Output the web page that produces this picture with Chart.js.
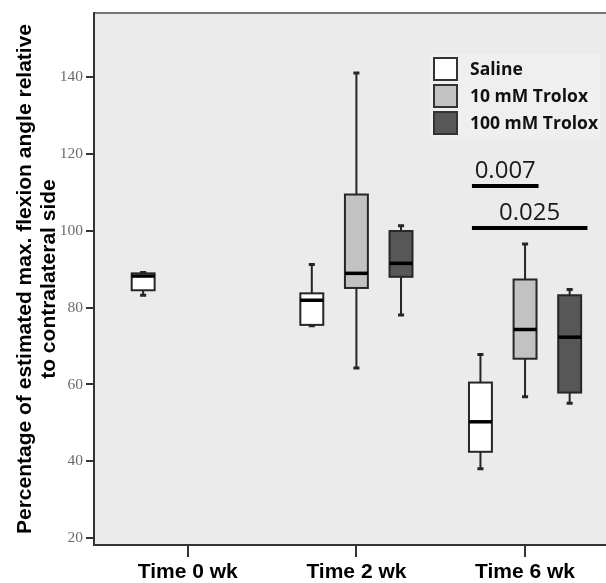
<!DOCTYPE html>
<html lang="en">
<head>
  <meta charset="UTF-8" />
  <title>Flexion angle by treatment</title>
  <script src="https://cdn.jsdelivr.net/npm/chart.js"></script>
  <style>
    body { margin: 0; background: #fff; }
    #wrap { width: 606px; height: 583px; }
  </style>
</head>
<body>
  <div id="wrap"><canvas id="flexChart"></canvas></div>

  <script>
    // Categories and tick labels
    const timeLabels = ['Time 0 wk', 'Time 2 wk', 'Time 6 wk'];
    const yTicks = [20, 40, 60, 80, 100, 120, 140];

    // Treatment groups
    const groupNames = ['Saline', '10 mM Trolox', '100 mM Trolox'];

    // Box stats per time point: [lower whisker, q1, median, q3, upper whisker]; null = not measured
    const saline    = [[83.2, 84.5, 88.2, 88.9, 89.1], [75.3, 75.5, 81.9, 83.7, 91.2], [38.1, 42.5, 50.3, 60.5, 67.8]];
    const trolox10  = [null, [64.3, 85.1, 88.9, 109.4, 141.0], [56.8, 66.7, 74.3, 87.3, 96.5]];
    const trolox100 = [null, [78.1, 88.0, 91.5, 99.9, 101.3], [55.1, 57.9, 72.3, 83.2, 84.7]];

    // Significance bars at 6 wk (x in time units, y in percent)
    const sigLabels = ['0.007', '0.025'];
    const sigFrom = [1.685, 1.685];
    const sigTo = [2.08, 2.37];
    const sigY = [111.6, 100.7];

    const groupStats = [saline, trolox10, trolox100];
    const groupFill = ['#ffffff', '#c2c2c2', '#575757'];
    const groupOffset = [-0.2645, 0, 0.2645];
    const boxHalf = 0.068;
    const capHalf = 0.018;

    const datasets = groupNames.map((name, g) => ({
      label: name,
      stats: groupStats[g],
      fill: groupFill[g],
      offset: groupOffset[g],
      data: groupStats[g]
        .map((s, i) => s ? { x: i + groupOffset[g], y: s[2] } : null)
        .filter(p => p),
      pointRadius: 0,
      showLine: false
    }));

    const boxPlugin = {
      id: 'boxes',
      beforeDraw(chart) {
        const { ctx, chartArea: a } = chart;
        ctx.save();
        ctx.fillStyle = '#ebebeb';
        ctx.fillRect(a.left, a.top, a.right - a.left, a.bottom - a.top);
        // top frame
        ctx.strokeStyle = '#777';
        ctx.lineWidth = 2;
        ctx.beginPath();
        ctx.moveTo(a.left, a.top);
        ctx.lineTo(a.right, a.top);
        ctx.stroke();
        ctx.restore();
      },
      afterDatasetsDraw(chart) {
        const { ctx, scales: { x, y } } = chart;
        ctx.save();
        chart.data.datasets.forEach(ds => {
          ds.stats.forEach((s, i) => {
            if (!s) return;
            const cx = x.getPixelForValue(i + ds.offset);
            const l = x.getPixelForValue(i + ds.offset - boxHalf);
            const r = x.getPixelForValue(i + ds.offset + boxHalf);
            const cl = x.getPixelForValue(i + ds.offset - capHalf);
            const cr = x.getPixelForValue(i + ds.offset + capHalf);
            const [lo, q1, med, q3, hi] = s.map(v => y.getPixelForValue(v));

            // whiskers
            ctx.strokeStyle = '#262626';
            ctx.lineWidth = 2;
            ctx.beginPath();
            ctx.moveTo(cx, hi); ctx.lineTo(cx, q3);
            ctx.moveTo(cx, q1); ctx.lineTo(cx, lo);
            ctx.stroke();
            ctx.lineWidth = 3;
            ctx.beginPath();
            ctx.moveTo(cl, hi); ctx.lineTo(cr, hi);
            ctx.moveTo(cl, lo); ctx.lineTo(cr, lo);
            ctx.stroke();

            // box
            ctx.fillStyle = ds.fill;
            ctx.fillRect(l, q3, r - l, q1 - q3);
            ctx.lineWidth = 2;
            ctx.strokeRect(l, q3, r - l, q1 - q3);

            // median
            ctx.strokeStyle = '#000';
            ctx.lineWidth = 3.5;
            ctx.beginPath();
            ctx.moveTo(l, med); ctx.lineTo(r, med);
            ctx.stroke();
          });
        });

        // significance bars
        ctx.fillStyle = '#1a1a1a';
        ctx.strokeStyle = '#000';
        ctx.font = '24px "Open Sans"';
        ctx.textAlign = 'center';
        ctx.textBaseline = 'alphabetic';
        sigLabels.forEach((txt, k) => {
          const x1 = x.getPixelForValue(sigFrom[k]);
          const x2 = x.getPixelForValue(sigTo[k]);
          const py = y.getPixelForValue(sigY[k]);
          ctx.lineWidth = 4;
          ctx.beginPath();
          ctx.moveTo(x1, py); ctx.lineTo(x2, py);
          ctx.stroke();
          ctx.fillText(txt, (x1 + x2) / 2, py - 8);
        });

        // legend
        const lx = 434, ly = 58, pitch = 27;
        ctx.fillStyle = '#efefef';
        ctx.fillRect(lx - 4, ly - 4, 170, pitch * 3 + 4);
        ctx.font = 'bold 17.5px "Open Sans"';
        ctx.textAlign = 'left';
        ctx.textBaseline = 'middle';
        chart.data.datasets.forEach((ds, k) => {
          const top = ly + k * pitch;
          ctx.fillStyle = ds.fill;
          ctx.fillRect(lx, top, 23, 22);
          ctx.strokeStyle = '#333';
          ctx.lineWidth = 2;
          ctx.strokeRect(lx, top, 23, 22);
          ctx.fillStyle = '#111';
          ctx.fillText(ds.label, lx + 36, top + 12);
        });
        ctx.restore();
      }
    };

    new Chart(document.getElementById('flexChart'), {
      type: 'scatter',
      data: { datasets },
      options: {
        responsive: true,
        maintainAspectRatio: false,
        animation: false,
        layout: { padding: { top: 13, right: 0, bottom: 0, left: 0 } },
        plugins: { legend: { display: false }, tooltip: { enabled: false } },
        scales: {
          x: {
            type: 'linear',
            min: -0.556,
            max: 2.48,
            afterBuildTicks: s => { s.ticks = timeLabels.map((_, i) => ({ value: i })); },
            afterFit: s => { s.height = 38; },
            ticks: {
              callback: (v, i) => timeLabels[i],
              autoSkip: false,
              maxRotation: 0,
              padding: 3,
              color: '#000',
              font: { family: '"Liberation Sans", Arial, sans-serif', weight: 'bold', size: 21 }
            },
            grid: { drawOnChartArea: false, tickLength: 12, color: '#333', lineWidth: 2 },
            border: { color: '#333', width: 2 }
          },
          y: {
            min: 18.26,
            max: 156.6,
            afterBuildTicks: s => { s.ticks = yTicks.map(v => ({ value: v })); },
            afterFit: s => { s.width = 94; },
            ticks: {
              padding: 3,
              color: '#6b6b6b',
              font: { family: '"Liberation Serif", "DejaVu Serif", serif', size: 15.5 }
            },
            grid: { drawOnChartArea: false, tickLength: 8, color: '#333', lineWidth: 2 },
            border: { color: '#333', width: 2 },
            title: {
              display: true,
              text: ['Percentage of estimated max. flexion angle relative', 'to contralateral side'],
              color: '#000',
              font: { family: '"Liberation Sans", Arial, sans-serif', weight: 'bold', size: 21, lineHeight: 1.15 },
              padding: { top: 13, bottom: 0 }
            }
          }
        }
      },
      plugins: [boxPlugin]
    });
  </script>
</body>
</html>
